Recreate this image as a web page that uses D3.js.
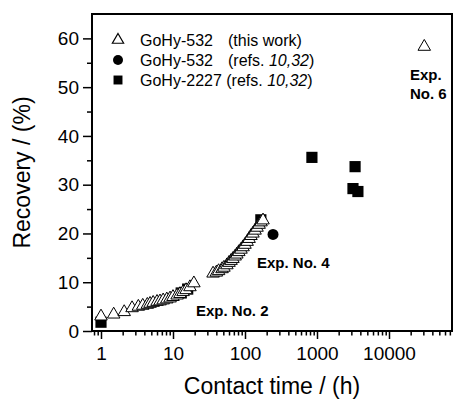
<!DOCTYPE html>
<html>
<head>
<meta charset="utf-8">
<script src="https://cdn.jsdelivr.net/npm/d3@7"></script>
<style>
  body { margin: 0; background: #fff; }
  svg { font-family: "Liberation Sans", Arial, sans-serif; }
</style>
</head>
<body>
<div id="chart"></div>
<script>
// GoHy-532 (this work) - contact time (h) / recovery (%)
const thisWorkTime = [1.0, 1.5, 2.1, 2.7, 3.3, 3.8, 4.4, 4.8, 5.3, 6.0, 6.6, 7.3, 8.2, 9.1, 10, 11.4, 12.5, 13.8, 15.2, 17.2, 19.5,
  36, 40, 43, 48, 51, 56, 60, 64, 68, 73, 77, 82, 88, 94, 100, 107, 114, 121, 129, 138, 147, 157, 167, 178];
const thisWorkRecovery = [3.0, 3.4, 3.9, 4.7, 5.0, 5.2, 5.4, 5.6, 5.8, 6.0, 6.1, 6.3, 6.5, 6.7, 7.0, 7.3, 7.6, 8.0, 8.4, 9.0, 9.8,
  11.8, 12.0, 12.3, 12.7, 13.0, 13.5, 14.0, 14.4, 14.8, 15.3, 15.7, 16.2, 16.7, 17.2, 17.7, 18.3, 18.9, 19.5, 20.0, 20.6, 21.2, 21.8, 22.3, 22.7];
// Exp. No. 6
const exp6Time = [30900];
const exp6Recovery = [58.3];
// GoHy-532 (refs. 10,32)
const ref532Time = [245];
const ref532Recovery = [19.8];
// GoHy-2227 (refs. 10,32)
const ref2227Time = [1.0, 13, 16, 166, 850, 3380, 3160, 3700];
const ref2227Recovery = [1.8, 7.8, 8.6, 22.8, 35.6, 33.7, 29.2, 28.6];

const xMajor = [1, 10, 100, 1000, 10000];
const yMajor = [0, 10, 20, 30, 40, 50, 60];

const width = 456, height = 402;
const m = { left: 92, right: 452, top: 14, bottom: 331 };

const svg = d3.select('#chart').append('svg')
  .attr('width', width)
  .attr('height', height);

const x = d3.scaleLog().domain([0.75, 75000]).range([m.left, m.right]);
const y = d3.scaleLinear().domain([0, 65]).range([m.bottom, m.top]);

// minor ticks
const xMinor = [];
for (let e = -1; e <= 4; e++) {
  for (let k = 2; k <= 9; k++) {
    const v = k * Math.pow(10, e);
    if (v >= 0.75 && v <= 75000) xMinor.push(v);
  }
}
const yMinor = [5, 15, 25, 35, 45, 55];

svg.append('g')
  .attr('transform', `translate(0,${m.bottom})`)
  .call(d3.axisBottom(x).tickValues(xMinor).tickSize(4.5).tickFormat(''))
  .call((g) => g.select('.domain').remove());

svg.append('g')
  .attr('class', 'xaxis')
  .attr('transform', `translate(0,${m.bottom})`)
  .call(d3.axisBottom(x).tickValues(xMajor).tickSize(8).tickPadding(8).tickFormat(d3.format('d')))
  .call((g) => g.select('.domain').remove());

svg.append('g')
  .attr('transform', `translate(${m.left},0)`)
  .call(d3.axisLeft(y).tickValues(yMinor).tickSize(5).tickFormat(''))
  .call((g) => g.select('.domain').remove());

svg.append('g')
  .attr('class', 'yaxis')
  .attr('transform', `translate(${m.left},0)`)
  .call(d3.axisLeft(y).tickValues(yMajor).tickSize(9).tickPadding(4))
  .call((g) => g.select('.domain').remove());

svg.selectAll('.tick line').attr('stroke', '#000').attr('stroke-width', 1.5);
svg.selectAll('.xaxis text, .yaxis text')
  .attr('font-size', 19)
  .attr('font-family', '"Liberation Sans", Arial, sans-serif')
  .attr('fill', '#000');

// frame
svg.append('rect')
  .attr('x', m.left)
  .attr('y', m.top)
  .attr('width', m.right - m.left)
  .attr('height', m.bottom - m.top)
  .attr('fill', 'none')
  .attr('stroke', '#000')
  .attr('stroke-width', 2);

// axis titles
svg.append('text')
  .attr('x', (m.left + m.right) / 2)
  .attr('y', 394)
  .attr('text-anchor', 'middle')
  .attr('font-size', 23)
  .text('Contact time / (h)');

svg.append('text')
  .attr('transform', `translate(30,${(m.top + m.bottom) / 2}) rotate(-90)`)
  .attr('text-anchor', 'middle')
  .attr('font-size', 23)
  .text('Recovery / (%)');

const tri = d3.symbol().type(d3.symbolTriangle).size(68);
const sq = d3.symbol().type(d3.symbolSquare).size(125);

const plot = svg.append('g');

plot.selectAll('path.sq')
  .data(d3.zip(ref2227Time, ref2227Recovery))
  .enter()
  .append('path')
  .attr('class', 'sq')
  .attr('d', sq)
  .attr('transform', (d) => `translate(${x(d[0])},${y(d[1])})`)
  .attr('fill', '#000');

plot.selectAll('path.tri')
  .data(d3.zip(thisWorkTime.concat(exp6Time), thisWorkRecovery.concat(exp6Recovery)))
  .enter()
  .append('path')
  .attr('class', 'tri')
  .attr('d', tri)
  .attr('transform', (d) => `translate(${x(d[0])},${y(d[1])})`)
  .attr('fill', '#fff')
  .attr('stroke', '#000')
  .attr('stroke-width', 1);

plot.selectAll('circle.ref')
  .data(d3.zip(ref532Time, ref532Recovery))
  .enter()
  .append('circle')
  .attr('class', 'ref')
  .attr('cx', (d) => x(d[0]))
  .attr('cy', (d) => y(d[1]))
  .attr('r', 5.5)
  .attr('fill', '#000');

// annotations
const notes = [
  { t: 'Exp. No. 2', x: 196, y: 316 },
  { t: 'Exp. No. 4', x: 257, y: 268 },
  { t: 'Exp.', x: 410, y: 80 },
  { t: 'No. 6', x: 410, y: 99 },
];
svg.selectAll('text.note')
  .data(notes)
  .enter()
  .append('text')
  .attr('class', 'note')
  .attr('x', (d) => d.x)
  .attr('y', (d) => d.y)
  .attr('font-size', 15)
  .attr('font-weight', 'bold')
  .text((d) => d.t);

// legend
const legend = svg.append('g');
legend.append('path')
  .attr('d', d3.symbol().type(d3.symbolTriangle).size(55))
  .attr('transform', 'translate(118,40)')
  .attr('fill', '#fff').attr('stroke', '#000').attr('stroke-width', 1.2);
legend.append('circle')
  .attr('cx', 118).attr('cy', 60).attr('r', 5)
  .attr('fill', '#000');
legend.append('path')
  .attr('d', d3.symbol().type(d3.symbolSquare).size(80))
  .attr('transform', 'translate(118,80)')
  .attr('fill', '#000');

const lg1 = legend.append('text').attr('x', 140).attr('y', 46).attr('font-size', 16);
lg1.append('tspan').text('GoHy-532');
lg1.append('tspan').attr('x', 228).text('(this work)');

const lg2 = legend.append('text').attr('x', 140).attr('y', 66).attr('font-size', 16);
lg2.append('tspan').text('GoHy-532');
lg2.append('tspan').attr('x', 228).text('(refs. ');
lg2.append('tspan').attr('font-style', 'italic').text('10,32');
lg2.append('tspan').text(')');

const lg3 = legend.append('text').attr('x', 140).attr('y', 86).attr('font-size', 16);
lg3.append('tspan').text('GoHy-2227 (refs. ');
lg3.append('tspan').attr('font-style', 'italic').text('10,32');
lg3.append('tspan').text(')');
</script>
</body>
</html>
